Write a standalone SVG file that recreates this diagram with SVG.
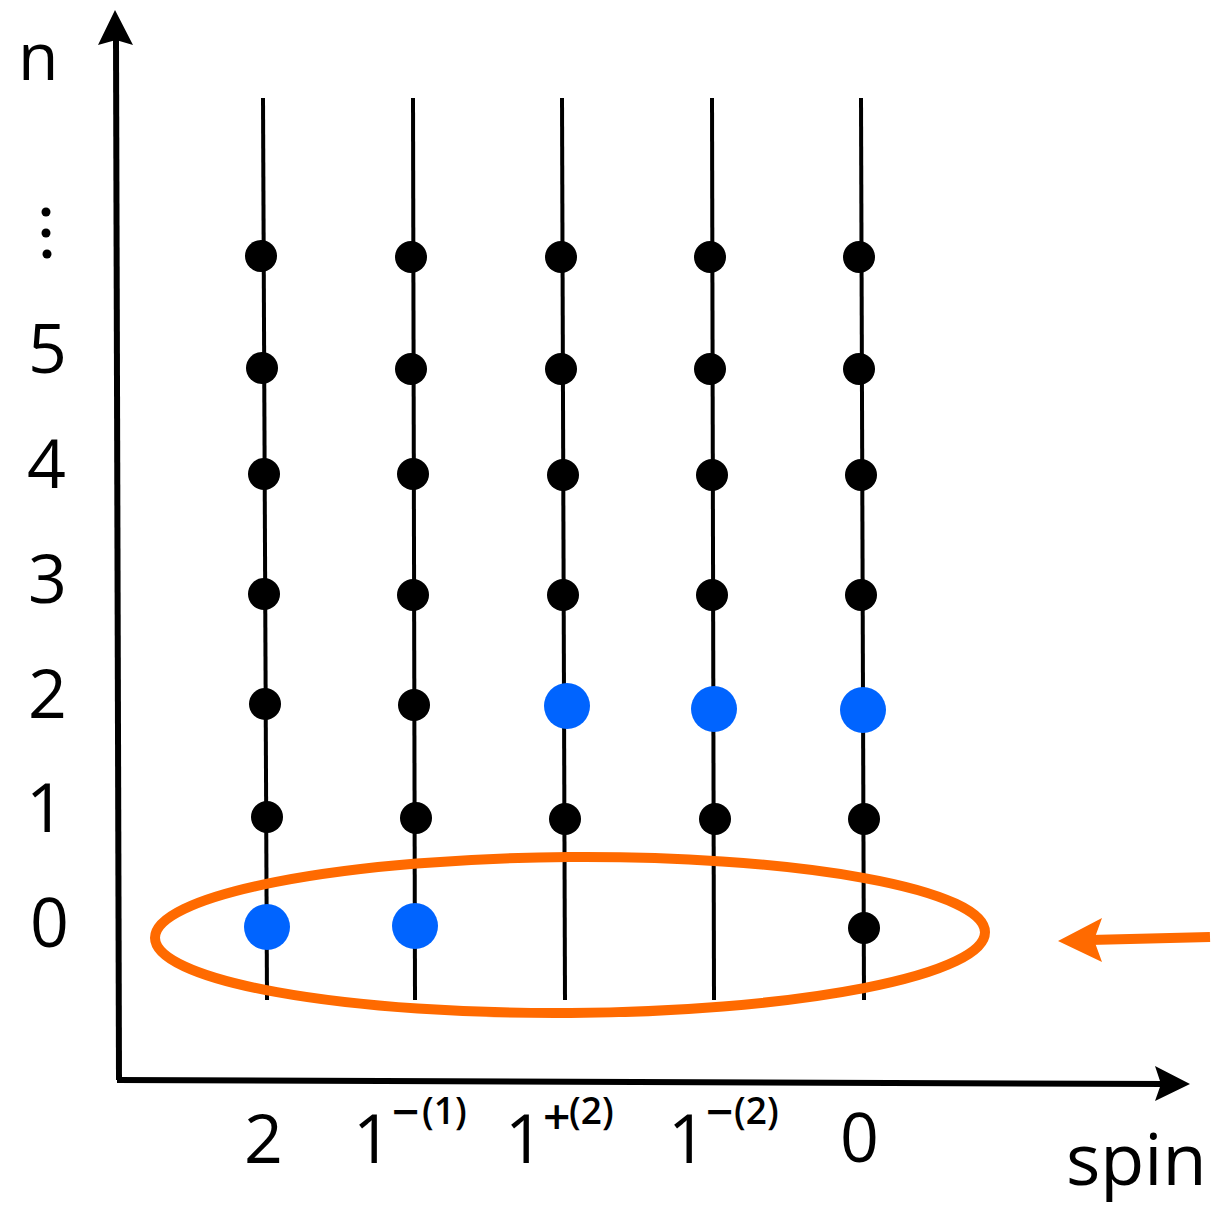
<svg xmlns="http://www.w3.org/2000/svg" width="1216" height="1205" viewBox="0 0 1216 1205">
<style>
.col{stroke:#000;stroke-width:4;fill:none}
.b{fill:#000}
.bl{fill:#0064ff}
.t{font-family:"Open Sans","DejaVu Sans",sans-serif;fill:#000}
.sup{font-family:"Open Sans","DejaVu Sans",sans-serif;fill:#000;font-size:37px;font-weight:600}
.sg{font-family:"Open Sans","DejaVu Sans",sans-serif;fill:#000;font-size:48px;font-weight:600}
.ax{stroke:#000;stroke-width:6;fill:none}
</style>
<rect width="1216" height="1205" fill="#fff"/>
<g id="axes">
<line class="ax" x1="119" y1="1080" x2="116" y2="38"/>
<polygon points="115,10 98,45 116,40 133,45" fill="#000"/>
<line class="ax" x1="117" y1="1080" x2="1165" y2="1084"/>
<polygon points="1190,1084 1155,1066 1161,1084 1155,1101" fill="#000"/>
</g>
<g id="connectors">
<line class="col" x1="263" y1="98" x2="267" y2="1000"/>
<line class="col" x1="413" y1="98" x2="415" y2="1000"/>
<line class="col" x1="562" y1="98" x2="565" y2="1000"/>
<line class="col" x1="712" y1="98" x2="714" y2="1000"/>
<line class="col" x1="861" y1="98" x2="864" y2="1000"/>
</g>
<g id="col-2">
<circle class="b" cx="261" cy="256" r="16"/><circle class="b" cx="262" cy="368" r="16"/><circle class="b" cx="264" cy="474" r="16"/><circle class="b" cx="264" cy="594" r="16"/><circle class="b" cx="265" cy="704" r="16"/><circle class="b" cx="267" cy="817" r="16"/><circle class="bl" cx="267" cy="927" r="23"/>
</g>
<g id="col-1m1">
<circle class="b" cx="411" cy="257" r="16"/><circle class="b" cx="411" cy="369" r="16"/><circle class="b" cx="413" cy="474" r="16"/><circle class="b" cx="413" cy="595" r="16"/><circle class="b" cx="414" cy="705" r="16"/><circle class="b" cx="416" cy="818" r="16"/><circle class="bl" cx="415" cy="926" r="23"/>
</g>
<g id="col-1p2">
<circle class="b" cx="561" cy="257" r="16"/><circle class="b" cx="561" cy="369" r="16"/><circle class="b" cx="563" cy="475" r="16"/><circle class="b" cx="563" cy="595" r="16"/><circle class="bl" cx="567" cy="706" r="23"/><circle class="b" cx="565" cy="819" r="16"/>
</g>
<g id="col-1m2">
<circle class="b" cx="710" cy="257" r="16"/><circle class="b" cx="710" cy="369" r="16"/><circle class="b" cx="712" cy="475" r="16"/><circle class="b" cx="712" cy="595" r="16"/><circle class="bl" cx="714" cy="709" r="23"/><circle class="b" cx="715" cy="819" r="16"/>
</g>
<g id="col-0">
<circle class="b" cx="859" cy="257" r="16"/><circle class="b" cx="859" cy="369" r="16"/><circle class="b" cx="861" cy="475" r="16"/><circle class="b" cx="861" cy="595" r="16"/><circle class="bl" cx="863" cy="710" r="23"/><circle class="b" cx="864" cy="819" r="16"/><circle class="b" cx="864" cy="928" r="16"/>
</g>
<g id="highlight">
<ellipse cx="570" cy="935" rx="415" ry="78" fill="none" stroke="#ff6a00" stroke-width="10" transform="rotate(-0.4 570 935)"/>
<line x1="1210" y1="937" x2="1090" y2="940" stroke="#ff6a00" stroke-width="10"/>
<polygon points="1058,941 1102,918 1094,940 1102,962" fill="#ff6a00"/>
</g>
<g id="labels">
<text class="t" x="18" y="80" font-size="66">n</text>
<circle cx="46" cy="212" r="4.5" fill="#000"/><circle cx="46" cy="233" r="4.5" fill="#000"/><circle cx="47" cy="254" r="4.5" fill="#000"/>
<text class="t" x="28" y="373" font-size="68">5</text>
<text class="t" x="27" y="488" font-size="68">4</text>
<text class="t" x="28" y="603" font-size="68">3</text>
<text class="t" x="28" y="718" font-size="68">2</text>
<text class="t" x="26" y="832" font-size="68">1</text>
<text class="t" x="30" y="947" font-size="68">0</text>
<text class="t" x="244" y="1163" font-size="68">2</text>
<text class="t" x="353" y="1163" font-size="68">1</text><text class="sg" x="392" y="1129">−</text><text class="sup" x="422" y="1124">(1)</text>
<text class="t" x="505" y="1163" font-size="68">1</text><text class="sg" x="543" y="1134">+</text><text class="sup" x="569" y="1124">(2)</text>
<text class="t" x="668" y="1163" font-size="68">1</text><text class="sg" x="706" y="1129">−</text><text class="sup" x="734" y="1124">(2)</text>
<text class="t" x="840" y="1162" font-size="68">0</text>
<text class="t" x="1066" y="1185" font-size="72">spin</text>
</g>
</svg>
